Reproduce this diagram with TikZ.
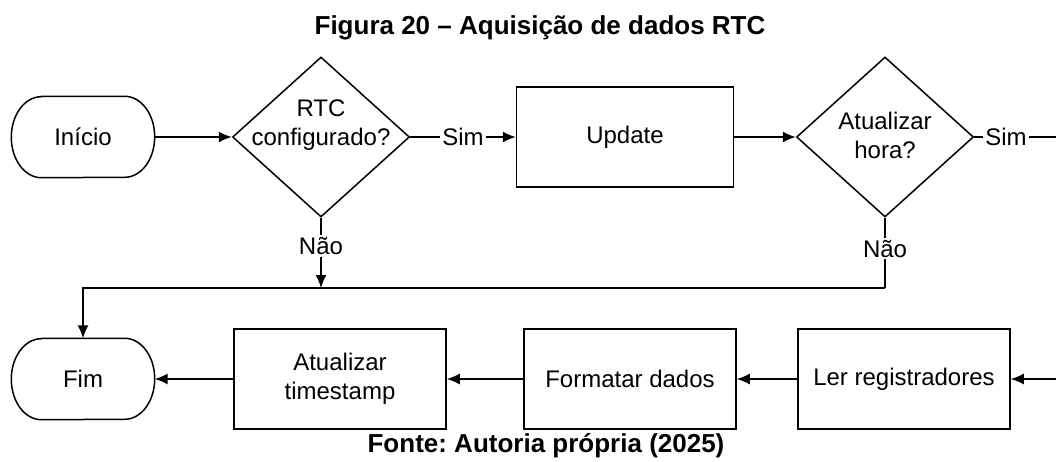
\documentclass[tikz,border=0pt]{standalone}
\usepackage{fontspec}
\setmainfont{Liberation Sans}
\frenchspacing
\usetikzlibrary{shapes.geometric,arrows.meta}

\begin{document}
\begin{tikzpicture}[x=1pt,y=-1pt,
  every node/.style={font=\fontsize{24}{29}\selectfont},
  box/.style={draw,line width=1.5pt,minimum width=212pt,minimum height=100pt,align=center},
  term/.style={minimum width=143pt,minimum height=81pt},
  choice/.style={draw,diamond,line width=1.5pt,minimum width=177pt,minimum height=160pt,inner sep=0pt},
  lbl/.style={fill=white,inner sep=2pt},
  flow/.style={draw,line width=1.5pt,->,>={Latex[length=13pt,width=11pt]}},
  caption/.style={font=\fontsize{26}{30}\selectfont\bfseries}]
\useasboundingbox (0,0) rectangle (1056,462);
\clip (0,0) rectangle (1056,462);

\node[caption] (t) at (540,28) {Figura 20 – Aquisição de dados RTC};
\node[term] (1) at (83,137) {Início};
\node[choice,label={[yshift=12pt,align=center]center:{RTC\\configurado?}}] (2) at (321,137) {};
\node[box,minimum width=217pt] (3) at (625,137) {Update};
\node[choice,label={[yshift=2pt,align=center]center:{Atualizar\\hora?}}] (4) at (885,137) {};
\node[box] (5) at (904,379) {Ler registradores};
\node[box] (6) at (630,379) {Formatar dados};
\node[box] (7) at (340,379) {Atualizar\\timestamp};
\node[term] (8) at (83,379) {Fim};
\node[caption] (f) at (546,446) {Fonte: Autoria própria (2025)};

\foreach \n in {1,8}
  \draw[line width=1.5pt] ([xshift=30pt]\n.north west) -- ([xshift=-30pt]\n.north east)
    arc[start angle=90,end angle=-90,x radius=30pt,y radius=40.5pt]
    -- ([xshift=30pt]\n.south west)
    arc[start angle=270,end angle=90,x radius=30pt,y radius=40.5pt] -- cycle;

\coordinate (a) at (321,288);
\coordinate (b) at (885,288);
\coordinate (c) at (1080,137);

\path[flow] (1) -- (2);
\path[flow] (2) -- node[lbl]{Sim} (3);
\path[flow] (3) -- (4);
\path[flow] (4) -- node[lbl,pos=.3]{Sim} (c) |- (5);
\path[flow] (2) -- node[lbl,pos=.4]{Não} (a);
\path[draw,line width=1.5pt] (4) -- node[lbl,pos=.44]{Não} (b);
\path[flow] (b) -| (8);
\path[flow] (5) -- (6);
\path[flow] (6) -- (7);
\path[flow] (7) -- (8);
\end{tikzpicture}
\end{document}
